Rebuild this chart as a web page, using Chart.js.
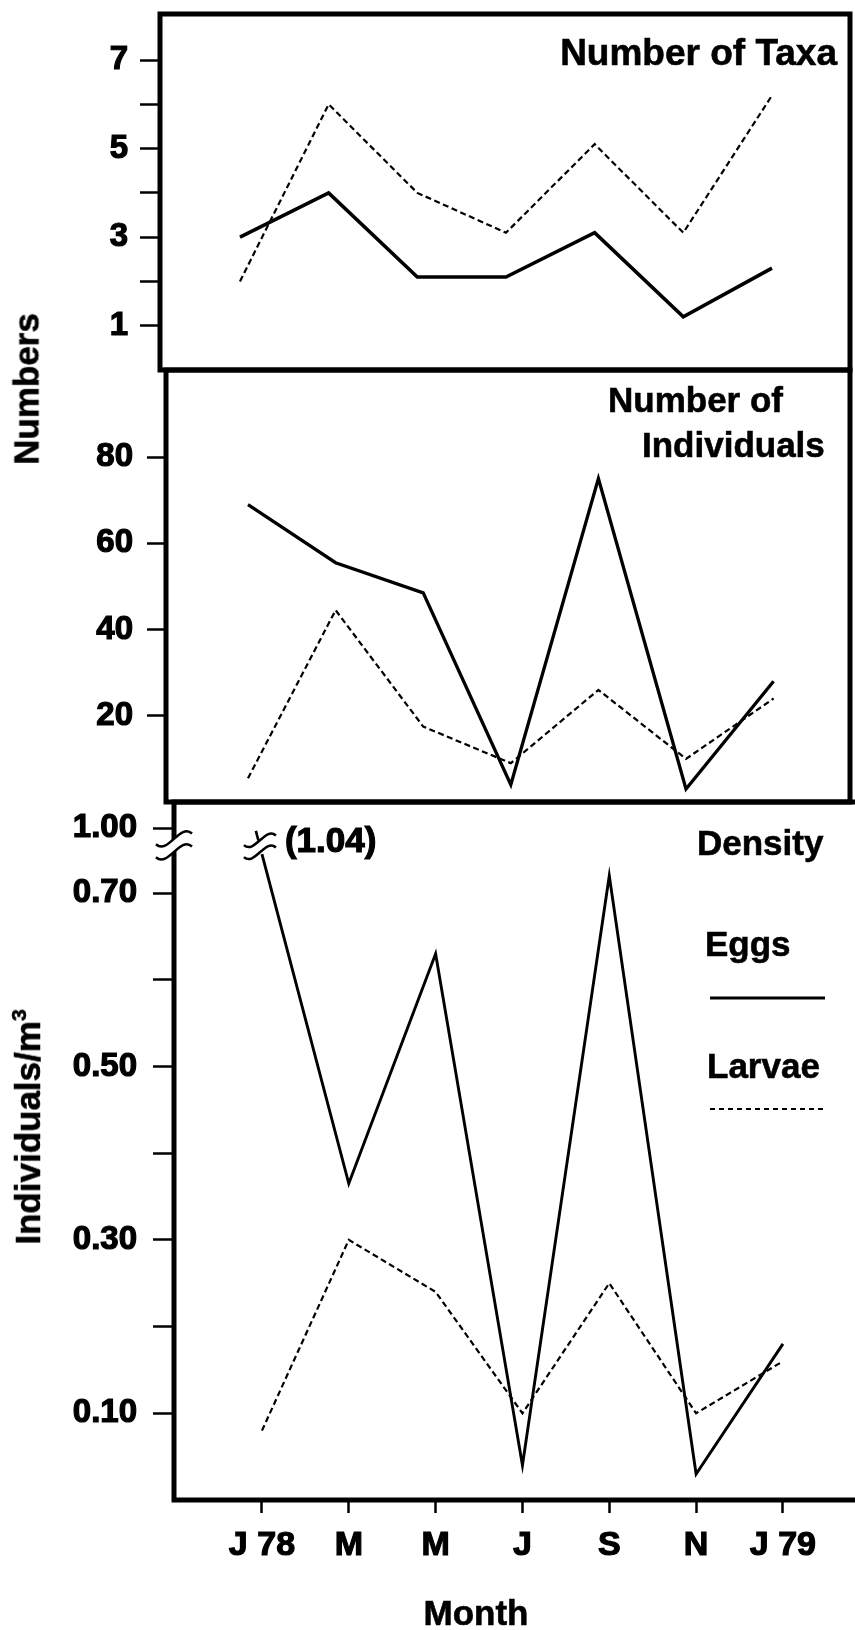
<!DOCTYPE html>
<html lang="en">
<head>
<meta charset="utf-8">
<title>Eggs and larvae by month</title>
<script src="https://cdn.jsdelivr.net/npm/chart.js@4.4.1/dist/chart.umd.min.js"></script>
<style>
  html, body { margin: 0; padding: 0; background: #fff; }
  #page {
    position: relative; width: 855px; height: 1630px; overflow: hidden;
    font-family: "Liberation Sans", Arial, Helvetica, sans-serif;
    font-weight: bold; color: #000;
  }
  #page canvas { position: absolute; left: 0; top: 0; }
  .txt { position: absolute; white-space: nowrap; font-size: 35px; line-height: 35px;
         -webkit-text-stroke: 0.6px #000; }
  .vert { transform: translate(-50%, -50%) rotate(-90deg); }
  .sup { font-size: 21px; position: relative; top: -14px; }
</style>
</head>
<body>
<div id="page">
  <canvas id="taxa" width="855" height="1630"></canvas>
  <canvas id="indiv" width="855" height="1630"></canvas>
  <canvas id="dens" width="855" height="1630"></canvas>

  <div class="txt vert" style="left:26px; top:389px;">Numbers</div>
  <div class="txt vert" style="left:30px; top:1127px;">Individuals/m<span class="sup">3</span></div>

  <div class="txt" style="right:18px; top:34px; font-size:37px; line-height:37px;">Number of Taxa</div>
  <div class="txt" style="left:608px; top:382px;">Number of</div>
  <div class="txt" style="left:642px; top:427px;">Individuals</div>

  <div class="txt" style="left:697px; top:825px;">Density</div>
  <div class="txt" style="left:705px; top:926px;">Eggs</div>
  <div class="txt" style="left:707px; top:1048px;">Larvae</div>

  <div class="txt" style="left:476px; top:1595px; transform: translateX(-50%);">Month</div>
</div>

<script>
// months sampled, every two months from January 1978
const months = ['J 78', 'M', 'M', 'J', 'S', 'N', 'J 79'];

// number of taxa
const taxaEggs   = [3.0, 4.0, 2.1, 2.1, 3.1, 1.2, 2.3];
const taxaLarvae = [2.0, 6.0, 4.0, 3.1, 5.1, 3.1, 6.2];
const taxaTicks      = [1, 2, 3, 4, 5, 6, 7];
const taxaTickLabels = ['1', '', '3', '', '5', '', '7'];

// number of individuals
const indivEggs   = [69, 55.5, 48.5, 4, 75, 3, 28];
const indivLarvae = [5.5, 44.5, 17.5, 9, 26, 10, 24];
const indivTicks      = [20, 40, 60, 80];
const indivTickLabels = ['20', '40', '60', '80'];

// density (individuals per m3)
const densEggs   = [1.04, 0.365, 0.63, 0.04, 0.72, 0.03, 0.18];
const densLarvae = [0.08, 0.30, 0.24, 0.10, 0.25, 0.10, 0.16];
const densTicks      = [0.1, 0.2, 0.3, 0.4, 0.5, 0.6, 0.7];
const densTickLabels = ['0.10', '', '0.30', '', '0.50', '', '0.70'];

// the density axis is broken above 0.70: values past the break stop there
const DENS_BREAK = 0.745;
const DENS_BREAK_TICK = 0.775;
const DENS_BREAK_LABEL = '1.00';

Chart.defaults.font.family = '"Liberation Sans", Arial, Helvetica, sans-serif';
Chart.defaults.font.weight = 'bold';
Chart.defaults.color = '#000';
Chart.defaults.animation = false;

function pts(values) {
    return values.map((v, i) => ({ x: i, y: v }));
}

function solidLine(values, width) {
    return { data: pts(values), borderColor: '#000', borderWidth: width,
             pointRadius: 0, tension: 0, fill: false, borderJoinStyle: 'miter' };
}

function dashedLine(values) {
    return { data: pts(values), borderColor: '#000', borderWidth: 2.2, borderDash: [6, 3.5],
             pointRadius: 0, tension: 0, fill: false };
}

// no extra room for labels at the ends of an axis, the panels sit flush
function noScalePadding(s) {
    s.paddingTop = 0;
    s.paddingBottom = 0;
    s.paddingLeft = 0;
    s.paddingRight = 0;
}

// thick box round the plot area
const framePlugin = {
    id: 'frame',
    afterDraw(chart, args, opts) {
        const { left, right, top, bottom } = chart.chartArea;
        const ctx = chart.ctx;
        const sides = opts.sides || 'trbl';
        ctx.save();
        ctx.strokeStyle = '#000';
        ctx.lineWidth = 5;
        ctx.lineCap = 'square';
        ctx.beginPath();
        if (sides.includes('t')) { ctx.moveTo(left, top); ctx.lineTo(right, top); }
        if (sides.includes('r')) { ctx.moveTo(right, top); ctx.lineTo(right, bottom); }
        if (sides.includes('b')) { ctx.moveTo(left, bottom); ctx.lineTo(right, bottom); }
        if (sides.includes('l')) { ctx.moveTo(left, top); ctx.lineTo(left, bottom); }
        ctx.stroke();
        ctx.restore();
    }
};

// two wavy strokes marking a break, white in between
function breakCurve(ctx, cx, cy, w, h) {
    ctx.moveTo(cx - w / 2, cy + h * 0.5);
    ctx.bezierCurveTo(cx - w / 6, cy + h * 1.5, cx + w / 6, cy - h * 1.5, cx + w / 2, cy - h * 0.5);
}

function drawBreak(ctx, cx, cy, w, gap) {
    const h = w * 0.3;
    ctx.save();
    ctx.fillStyle = '#fff';
    ctx.beginPath();
    ctx.moveTo(cx - w / 2, cy - gap / 2 + h * 0.5);
    ctx.bezierCurveTo(cx - w / 6, cy - gap / 2 + h * 1.5, cx + w / 6, cy - gap / 2 - h * 1.5, cx + w / 2, cy - gap / 2 - h * 0.5);
    ctx.lineTo(cx + w / 2, cy + gap / 2 - h * 0.5);
    ctx.bezierCurveTo(cx + w / 6, cy + gap / 2 - h * 1.5, cx - w / 6, cy + gap / 2 + h * 1.5, cx - w / 2, cy + gap / 2 + h * 0.5);
    ctx.closePath();
    ctx.fill();
    ctx.strokeStyle = '#000';
    ctx.lineWidth = 2.5;
    ctx.beginPath();
    breakCurve(ctx, cx, cy - gap / 2, w, h);
    breakCurve(ctx, cx, cy + gap / 2, w, h);
    ctx.stroke();
    ctx.restore();
}

// axis break, off-scale egg value and the legend samples of the density panel
const densityExtras = {
    id: 'densityExtras',
    afterDraw(chart) {
        const ctx = chart.ctx;
        const xs = chart.scales.x;
        const ys = chart.scales.y;

        drawBreak(ctx, chart.chartArea.left, ys.getPixelForValue(0.755), 36, 13);

        densEggs.forEach((v, i) => {
            if (v <= DENS_BREAK) return;
            const px = xs.getPixelForValue(i);
            const py = ys.getPixelForValue(DENS_BREAK);
            // direction of the line going up, from the next month
            const nx = xs.getPixelForValue(i + 1) - px;
            const ny = ys.getPixelForValue(Math.min(densEggs[i + 1], DENS_BREAK)) - py;
            const len = Math.hypot(nx, ny);
            const dx = -nx / len, dy = -ny / len;
            drawBreak(ctx, px + dx * 8, py + dy * 8, 32, 12);
            ctx.save();
            ctx.strokeStyle = '#000';
            ctx.lineWidth = 2.6;
            ctx.beginPath();
            ctx.moveTo(px + dx * 14, py + dy * 14);
            ctx.lineTo(px + dx * 24, py + dy * 24);
            ctx.stroke();
            ctx.font = 'bold 35px "Liberation Sans", Arial, sans-serif';
            ctx.fillStyle = '#000';
            ctx.lineWidth = 1.2;
            ctx.textAlign = 'left';
            ctx.textBaseline = 'alphabetic';
            const label = '(' + v.toFixed(2) + ')';
            ctx.fillText(label, px + 23, py - 2);
            ctx.strokeText(label, px + 23, py - 2);
            ctx.restore();
        });

        // legend line samples
        const eggsSet = chart.data.datasets[0];
        const larvaeSet = chart.data.datasets[1];
        ctx.save();
        ctx.strokeStyle = '#000';
        ctx.lineWidth = eggsSet.borderWidth;
        ctx.beginPath();
        ctx.moveTo(710, 998);
        ctx.lineTo(825, 998);
        ctx.stroke();
        ctx.lineWidth = larvaeSet.borderWidth;
        ctx.setLineDash([5, 4]);
        ctx.beginPath();
        ctx.moveTo(710, 1109);
        ctx.lineTo(825, 1109);
        ctx.stroke();
        ctx.restore();
    }
};

function yAxis(min, max, ticks, labels, width, tickLength, padding) {
    return {
        min: min,
        max: max,
        afterBuildTicks: s => { s.ticks = ticks.map(v => ({ value: v })); },
        afterFit: s => { s.width = width; noScalePadding(s); },
        border: { display: false },
        grid: { drawOnChartArea: false, drawTicks: true, tickLength: tickLength, tickWidth: 2.5, tickColor: '#000' },
        ticks: { padding: padding, font: { size: 33, weight: 'bold' }, color: '#000',
                 textStrokeColor: '#000', textStrokeWidth: 1.2,
                 callback: (value, index) => labels[index] }
    };
}

function hiddenX(min, max) {
    return { type: 'linear', display: false, min: min, max: max };
}

// top panel: number of taxa
new Chart(document.getElementById('taxa'), {
    type: 'line',
    data: { datasets: [solidLine(taxaEggs, 3.6), dashedLine(taxaLarvae)] },
    options: {
        responsive: false,
        layout: { padding: { top: 14, bottom: 1260, left: 0, right: 5 } },
        plugins: { legend: { display: false }, tooltip: { enabled: false }, frame: { sides: 'trbl' } },
        scales: {
            x: hiddenX(-0.902, 6.88),
            y: yAxis(0, 8.04, taxaTicks, taxaTickLabels, 160, 20, 12)
        }
    },
    plugins: [framePlugin]
});

// middle panel: number of individuals
new Chart(document.getElementById('indiv'), {
    type: 'line',
    data: { datasets: [solidLine(indivEggs, 3.3), dashedLine(indivLarvae)] },
    options: {
        responsive: false,
        layout: { padding: { top: 370, bottom: 828, left: 0, right: 5 } },
        plugins: { legend: { display: false }, tooltip: { enabled: false }, frame: { sides: 'trbl' } },
        scales: {
            x: hiddenX(-0.936, 6.872),
            y: yAxis(0, 100.2, indivTicks, indivTickLabels, 166, 19, 14)
        }
    },
    plugins: [framePlugin]
});

// bottom panel: density, with the month axis
new Chart(document.getElementById('dens'), {
    type: 'line',
    data: {
        datasets: [
            solidLine(densEggs.map(v => Math.min(v, DENS_BREAK)), 2.9),
            dashedLine(densLarvae)
        ]
    },
    options: {
        responsive: false,
        layout: { padding: { top: 802, bottom: 0, left: 0, right: 0 } },
        plugins: { legend: { display: false }, tooltip: { enabled: false }, frame: { sides: 'tbl' } },
        scales: {
            x: {
                type: 'linear',
                min: -1.013,
                max: 6.83,
                afterBuildTicks: s => { s.ticks = months.map((m, i) => ({ value: i })); },
                afterFit: s => { s.height = 130; noScalePadding(s); },
                border: { display: false },
                grid: { drawOnChartArea: false, drawTicks: true, tickLength: 13, tickWidth: 2.5, tickColor: '#000' },
                ticks: { padding: 12, autoSkip: false, maxRotation: 0, font: { size: 34, weight: 'bold' },
                         color: '#000', textStrokeColor: '#000', textStrokeWidth: 1.2,
                         callback: value => months[value] }
            },
            y: yAxis(0, 0.805, densTicks.concat([DENS_BREAK_TICK]), densTickLabels.concat([DENS_BREAK_LABEL]), 174, 21, 16)
        }
    },
    plugins: [framePlugin, densityExtras]
});
</script>
</body>
</html>
